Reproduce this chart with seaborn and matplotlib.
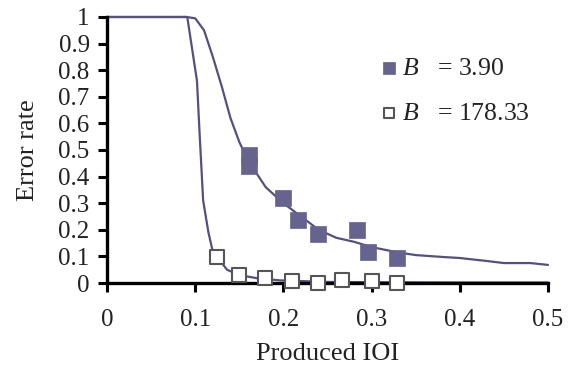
import matplotlib
matplotlib.use("Agg")
import matplotlib.pyplot as plt
import seaborn as sns
import pandas as pd

# Data points
x_b390 = [0.161, 0.161, 0.200, 0.217, 0.239, 0.283, 0.296, 0.329]
y_b390 = [0.48, 0.44, 0.32, 0.237, 0.184, 0.20, 0.117, 0.094]

x_b178 = [0.125, 0.150, 0.179, 0.210, 0.239, 0.266, 0.300, 0.329]
y_b178 = [0.098, 0.030, 0.018, 0.008, 0.000, 0.010, 0.008, 0.000]

# Fitted curves
cx_b390 = [0, 0.09, 0.10, 0.11, 0.12, 0.13, 0.14, 0.15, 0.16, 0.17, 0.18, 0.19, 0.20,
           0.22, 0.24, 0.26, 0.28, 0.30, 0.33, 0.35, 0.38, 0.40, 0.43, 0.45, 0.48, 0.50]
cy_b390 = [1, 1, 0.995, 0.95, 0.85, 0.74, 0.62, 0.53, 0.46, 0.41, 0.36, 0.33, 0.30,
           0.25, 0.20, 0.17, 0.155, 0.135, 0.115, 0.105, 0.098, 0.094, 0.083, 0.075, 0.075, 0.068]

cx_b178 = [0, 0.091, 0.102, 0.105, 0.109, 0.115, 0.120, 0.125, 0.136, 0.150, 0.170,
           0.196, 0.25, 0.30, 0.40, 0.50]
cy_b178 = [1, 1, 0.76, 0.56, 0.31, 0.19, 0.117, 0.098, 0.05, 0.03, 0.018,
           0.01, 0.004, 0.003, 0.002, 0.002]

xticks = [0, 0.1, 0.2, 0.3, 0.4, 0.5]
xtick_labels = ["0", "0.1", "0.2", "0.3", "0.4", "0.5"]
yticks = [0, 0.1, 0.2, 0.3, 0.4, 0.5, 0.6, 0.7, 0.8, 0.9, 1]
ytick_labels = ["0", "0.1", "0.2", "0.3", "0.4", "0.5", "0.6", "0.7", "0.8", "0.9", "1"]

sns.set_theme(style="white")
plt.rcParams["font.family"] = ["Liberation Serif", "DejaVu Serif"]
plt.rcParams["mathtext.fontset"] = "custom"
plt.rcParams["mathtext.it"] = "Liberation Serif:italic"
plt.rcParams["mathtext.rm"] = "Liberation Serif"

line_col = "#55507f"
fill_col = "#67638f"
open_edge = "#555555"
text_col = "#222222"

fig = plt.figure(figsize=(5.68, 3.75), dpi=100)
ax = fig.add_axes([0.1884, 0.2453, 0.7764, 0.7094])

df1 = pd.DataFrame({"x": cx_b390, "y": cy_b390})
df2 = pd.DataFrame({"x": cx_b178, "y": cy_b178})
sns.lineplot(data=df1, x="x", y="y", ax=ax, color=line_col, lw=1.6, sort=False,
             estimator=None, clip_on=False, zorder=2)
sns.lineplot(data=df2, x="x", y="y", ax=ax, color=line_col, lw=1.6, sort=False,
             estimator=None, clip_on=False, zorder=2)

dp1 = pd.DataFrame({"x": x_b390, "y": y_b390})
dp2 = pd.DataFrame({"x": x_b178, "y": y_b178})
sns.scatterplot(data=dp1, x="x", y="y", ax=ax, marker="s", s=120, color=fill_col,
                edgecolor=fill_col, linewidth=0.5, clip_on=False, zorder=4,
                label="$B$   = 3.90")
sns.scatterplot(data=dp2, x="x", y="y", ax=ax, marker="s", s=95, facecolor="white",
                edgecolor=open_edge, linewidth=1.5, clip_on=False, zorder=5,
                label="$B$   = 178.33")

ax.set_xlim(0, 0.5)
ax.set_ylim(0, 1)
ax.set_xticks(xticks)
ax.set_xticklabels(xtick_labels)
ax.set_yticks(yticks)
ax.set_yticklabels(ytick_labels)
ax.tick_params(axis="both", direction="out", length=6.5, width=2.2, color="black",
               labelsize=18, labelcolor=text_col, left=True, bottom=True)
ax.tick_params(axis="x", pad=12)
ax.tick_params(axis="y", pad=6)

for side in ["top", "right"]:
    ax.spines[side].set_visible(False)
for side in ["left", "bottom"]:
    ax.spines[side].set_color("black")
    ax.spines[side].set_linewidth(2.4)
    ax.spines[side].set_zorder(3)

ax.set_xlabel("Produced IOI", fontsize=19, color=text_col, labelpad=9)
ax.set_ylabel("Error rate", fontsize=19, color=text_col, labelpad=14)

leg = ax.legend(loc="upper left", bbox_to_anchor=(0.61, 0.85), frameon=False,
                fontsize=18.5, handlelength=1.0, handletextpad=0.0, labelspacing=0.85,
                markerscale=0.8, borderaxespad=0, borderpad=0)
for t in leg.get_texts():
    t.set_color(text_col)

fig.savefig("out.png", dpi=100)
